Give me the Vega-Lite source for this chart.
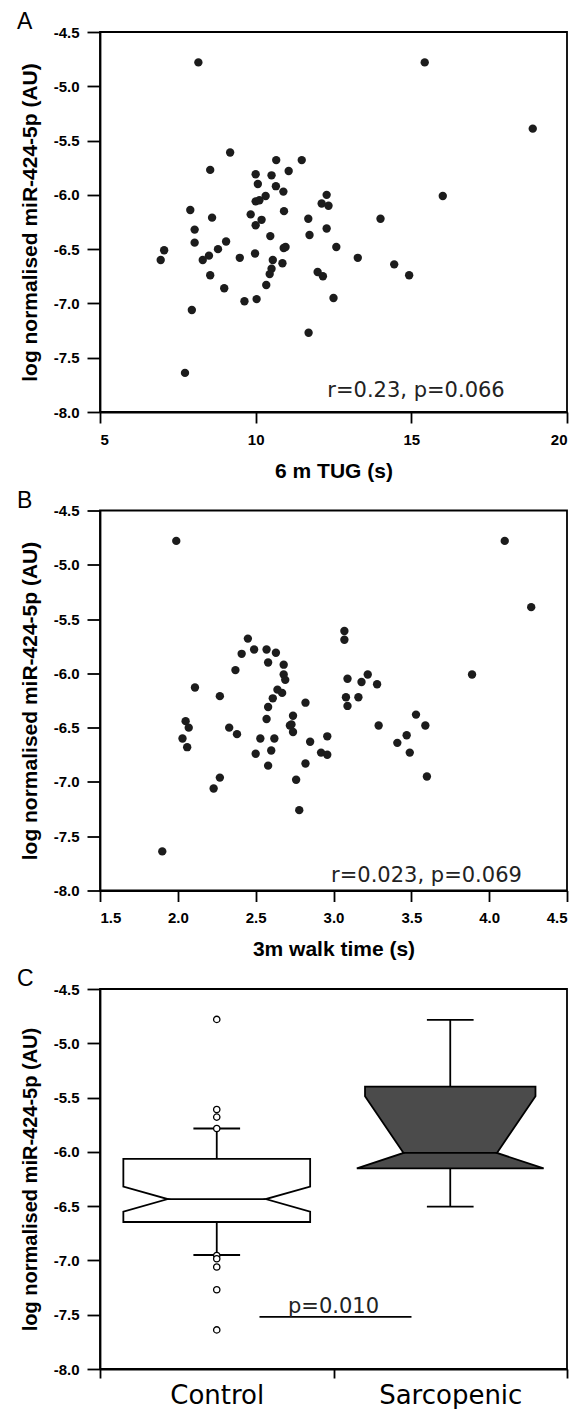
{
  "$schema": "https://vega.github.io/schema/vega-lite/v6.json",
  "background": "white",
  "padding": {"left": 16, "top": 10, "right": 0, "bottom": 0},
  "bounds": "flush",
  "spacing": 98.5,
  "config": {
    "view": {"stroke": "black", "strokeWidth": 1.8},
    "axis": {"domainColor": "black", "domainWidth": 1.8, "tickColor": "black", "tickWidth": 1.8, "grid": false, "labelFont": "Liberation Sans", "labelFontWeight": "bold", "labelFontSize": 15, "labelColor": "black", "titleFont": "Liberation Sans", "titleFontWeight": "bold", "titleFontSize": 21, "titleColor": "black"},
    "axisY": {"tickSize": 13, "labelPadding": 8, "titleX": -64, "titleY": 190, "titleAngle": -90, "titleBaseline": "alphabetic", "titleAlign": "center"},
    "axisX": {"tickSize": 11, "labelPadding": 9, "titleY": 65, "titleBaseline": "alphabetic"},
    "title": {"font": "Liberation Sans", "fontSize": 23, "fontWeight": "normal", "anchor": "start", "frame": "group", "baseline": "alphabetic", "dx": -83, "offset": -9, "color": "black"}
  },
  "datasets": {
    "tug": [
      {"tug": 8.16, "mir": -4.78}, {"tug": 15.43, "mir": -4.78}, {"tug": 18.9, "mir": -5.39}, {"tug": 9.18, "mir": -5.61},
      {"tug": 8.54, "mir": -5.77}, {"tug": 10.66, "mir": -5.68}, {"tug": 11.48, "mir": -5.68}, {"tug": 10.0, "mir": -5.81},
      {"tug": 10.51, "mir": -5.82}, {"tug": 11.06, "mir": -5.78}, {"tug": 10.07, "mir": -5.9}, {"tug": 10.65, "mir": -5.92},
      {"tug": 10.89, "mir": -5.97}, {"tug": 10.32, "mir": -6.01}, {"tug": 10.0, "mir": -6.06}, {"tug": 10.12, "mir": -6.05},
      {"tug": 12.28, "mir": -6.0}, {"tug": 12.12, "mir": -6.08}, {"tug": 12.34, "mir": -6.1}, {"tug": 16.01, "mir": -6.01},
      {"tug": 7.9, "mir": -6.14}, {"tug": 10.91, "mir": -6.15}, {"tug": 9.84, "mir": -6.18}, {"tug": 8.6, "mir": -6.21},
      {"tug": 11.69, "mir": -6.22}, {"tug": 14.01, "mir": -6.22}, {"tug": 10.19, "mir": -6.23}, {"tug": 10.0, "mir": -6.28},
      {"tug": 8.04, "mir": -6.32}, {"tug": 12.28, "mir": -6.31}, {"tug": 10.47, "mir": -6.38}, {"tug": 11.73, "mir": -6.37},
      {"tug": 6.95, "mir": -6.6}, {"tug": 7.06, "mir": -6.51}, {"tug": 8.04, "mir": -6.44}, {"tug": 8.3, "mir": -6.6},
      {"tug": 8.5, "mir": -6.56}, {"tug": 8.79, "mir": -6.5}, {"tug": 9.05, "mir": -6.43}, {"tug": 8.54, "mir": -6.74},
      {"tug": 8.99, "mir": -6.86}, {"tug": 9.49, "mir": -6.58}, {"tug": 9.98, "mir": -6.54}, {"tug": 9.64, "mir": -6.98},
      {"tug": 10.03, "mir": -6.96}, {"tug": 7.95, "mir": -7.06}, {"tug": 7.73, "mir": -7.64}, {"tug": 10.55, "mir": -6.6},
      {"tug": 10.51, "mir": -6.68}, {"tug": 10.45, "mir": -6.73}, {"tug": 10.34, "mir": -6.83}, {"tug": 10.86, "mir": -6.63},
      {"tug": 10.9, "mir": -6.49}, {"tug": 10.96, "mir": -6.48}, {"tug": 11.99, "mir": -6.71}, {"tug": 12.16, "mir": -6.75},
      {"tug": 12.5, "mir": -6.95}, {"tug": 11.7, "mir": -7.27}, {"tug": 12.59, "mir": -6.48}, {"tug": 13.28, "mir": -6.58},
      {"tug": 14.45, "mir": -6.64}, {"tug": 14.93, "mir": -6.74}
    ],
    "walk": [
      {"walk": 1.99, "mir": -4.78}, {"walk": 4.1, "mir": -4.78}, {"walk": 4.27, "mir": -5.39}, {"walk": 3.07, "mir": -5.61},
      {"walk": 3.07, "mir": -5.69}, {"walk": 2.45, "mir": -5.68}, {"walk": 2.41, "mir": -5.82}, {"walk": 2.49, "mir": -5.78},
      {"walk": 2.57, "mir": -5.78}, {"walk": 2.63, "mir": -5.81}, {"walk": 2.58, "mir": -5.9}, {"walk": 2.68, "mir": -5.92},
      {"walk": 2.37, "mir": -5.97}, {"walk": 2.68, "mir": -6.01}, {"walk": 2.69, "mir": -6.06}, {"walk": 3.89, "mir": -6.01},
      {"walk": 3.09, "mir": -6.05}, {"walk": 3.22, "mir": -6.01}, {"walk": 3.18, "mir": -6.08}, {"walk": 3.28, "mir": -6.1},
      {"walk": 2.11, "mir": -6.13}, {"walk": 2.64, "mir": -6.15}, {"walk": 2.67, "mir": -6.18}, {"walk": 2.27, "mir": -6.21},
      {"walk": 2.61, "mir": -6.23}, {"walk": 2.58, "mir": -6.31}, {"walk": 2.57, "mir": -6.42}, {"walk": 2.74, "mir": -6.39},
      {"walk": 2.82, "mir": -6.27}, {"walk": 3.08, "mir": -6.22}, {"walk": 3.09, "mir": -6.3}, {"walk": 3.16, "mir": -6.22},
      {"walk": 2.05, "mir": -6.44}, {"walk": 2.07, "mir": -6.5}, {"walk": 2.03, "mir": -6.6}, {"walk": 2.06, "mir": -6.68},
      {"walk": 2.33, "mir": -6.5}, {"walk": 2.38, "mir": -6.56}, {"walk": 2.27, "mir": -6.96}, {"walk": 2.23, "mir": -7.06},
      {"walk": 1.9, "mir": -7.64}, {"walk": 2.5, "mir": -6.74}, {"walk": 2.53, "mir": -6.6}, {"walk": 2.58, "mir": -6.85},
      {"walk": 2.6, "mir": -6.71}, {"walk": 2.62, "mir": -6.6}, {"walk": 2.72, "mir": -6.48}, {"walk": 2.73, "mir": -6.47},
      {"walk": 2.74, "mir": -6.54}, {"walk": 2.85, "mir": -6.63}, {"walk": 2.82, "mir": -6.83}, {"walk": 2.76, "mir": -6.98},
      {"walk": 2.78, "mir": -7.26}, {"walk": 2.92, "mir": -6.73}, {"walk": 2.96, "mir": -6.58}, {"walk": 2.96, "mir": -6.75},
      {"walk": 3.29, "mir": -6.48}, {"walk": 3.41, "mir": -6.64}, {"walk": 3.47, "mir": -6.57}, {"walk": 3.49, "mir": -6.73},
      {"walk": 3.53, "mir": -6.38}, {"walk": 3.59, "mir": -6.48}, {"walk": 3.6, "mir": -6.95}
    ],
    "shape": [
      {"group": "Control", "v": -6.646, "pos": 0.1, "pos2": 0.9},
      {"group": "Control", "v": -6.55, "pos": 0.1, "pos2": 0.9},
      {"group": "Control", "v": -6.435, "pos": 0.29, "pos2": 0.71},
      {"group": "Control", "v": -6.32, "pos": 0.1, "pos2": 0.9},
      {"group": "Control", "v": -6.064, "pos": 0.1, "pos2": 0.9},
      {"group": "Sarcopenic", "v": -6.153, "pos": 1.1, "pos2": 1.9},
      {"group": "Sarcopenic", "v": -6.01, "pos": 1.3, "pos2": 1.7},
      {"group": "Sarcopenic", "v": -5.487, "pos": 1.135, "pos2": 1.865},
      {"group": "Sarcopenic", "v": -5.4, "pos": 1.135, "pos2": 1.865}
    ],
    "whiskers": [
      {"group": "Control", "pos": 0.5, "v": -6.064, "v2": -5.785},
      {"group": "Control", "pos": 0.5, "v": -6.646, "v2": -6.95},
      {"group": "Sarcopenic", "pos": 1.5, "v": -5.4, "v2": -4.785},
      {"group": "Sarcopenic", "pos": 1.5, "v": -6.153, "v2": -6.505}
    ],
    "segments": [
      {"kind": "cap", "v": -5.785, "pos": 0.4, "pos2": 0.6},
      {"kind": "cap", "v": -6.95, "pos": 0.4, "pos2": 0.6},
      {"kind": "cap", "v": -4.785, "pos": 1.4, "pos2": 1.6},
      {"kind": "cap", "v": -6.505, "pos": 1.4, "pos2": 1.6},
      {"kind": "median", "v": -6.435, "pos": 0.29, "pos2": 0.71},
      {"kind": "median", "v": -6.01, "pos": 1.3, "pos2": 1.7},
      {"kind": "comparison", "v": -7.52, "pos": 0.683, "pos2": 1.334}
    ],
    "outliers": [
      {"group": "Control", "pos": 0.5, "v": -4.78},
      {"group": "Control", "pos": 0.5, "v": -5.61},
      {"group": "Control", "pos": 0.5, "v": -5.68},
      {"group": "Control", "pos": 0.5, "v": -5.785},
      {"group": "Control", "pos": 0.5, "v": -6.955},
      {"group": "Control", "pos": 0.5, "v": -6.985},
      {"group": "Control", "pos": 0.5, "v": -7.06},
      {"group": "Control", "pos": 0.5, "v": -7.27},
      {"group": "Control", "pos": 0.5, "v": -7.64}
    ]
  },
  "vconcat": [
    {
      "title": {"text": "A"},
      "width": 467,
      "height": 380,
      "encoding": {
        "x": {"field": "tug", "type": "quantitative", "scale": {"domain": [5, 20], "nice": false, "zero": false}, "axis": {"title": "6 m TUG (s)", "values": [5, 10, 15, 20]}},
        "y": {"field": "mir", "type": "quantitative", "scale": {"domain": [-8, -4.5], "nice": false, "zero": false}, "axis": {"title": "log normalised miR-424-5p (AU)", "values": [-8, -7.5, -7, -6.5, -6, -5.5, -5, -4.5], "format": ".1f", "labelExpr": "replace(datum.label, '−', '-')"}}
      },
      "layer": [
        {
          "data": {"name": "tug"},
          "mark": {"type": "circle", "size": 70, "color": "#1c1c1c", "opacity": 1}
        },
        {
          "data": {"values": [{"tug": 18, "mir": -7.86, "label": "r=0.23, p=0.066"}]},
          "mark": {"type": "text", "align": "right", "baseline": "alphabetic", "font": "DejaVu Sans", "fontSize": 21, "color": "#222222"},
          "encoding": {"text": {"field": "label"}}
        }
      ]
    },
    {
      "title": {"text": "B"},
      "width": 467,
      "height": 380,
      "encoding": {
        "x": {"field": "walk", "type": "quantitative", "scale": {"domain": [1.5, 4.5], "nice": false, "zero": false}, "axis": {"title": "3m walk time (s)", "values": [1.5, 2, 2.5, 3, 3.5, 4, 4.5], "format": ".1f"}},
        "y": {"field": "mir", "type": "quantitative", "scale": {"domain": [-8, -4.5], "nice": false, "zero": false}, "axis": {"title": "log normalised miR-424-5p (AU)", "values": [-8, -7.5, -7, -6.5, -6, -5.5, -5, -4.5], "format": ".1f", "labelExpr": "replace(datum.label, '−', '-')"}}
      },
      "layer": [
        {
          "data": {"name": "walk"},
          "mark": {"type": "circle", "size": 70, "color": "#1c1c1c", "opacity": 1}
        },
        {
          "data": {"values": [{"walk": 4.21, "mir": -7.92, "label": "r=0.023, p=0.069"}]},
          "mark": {"type": "text", "align": "right", "baseline": "alphabetic", "font": "DejaVu Sans", "fontSize": 21, "color": "#222222"},
          "encoding": {"text": {"field": "label"}}
        }
      ]
    },
    {
      "title": {"text": "C"},
      "width": 467,
      "height": 380,
      "encoding": {
        "y": {"field": "v", "type": "quantitative", "scale": {"domain": [-8, -4.5], "nice": false, "zero": false}, "axis": {"title": "log normalised miR-424-5p (AU)", "titleFontSize": 20, "values": [-8, -7.5, -7, -6.5, -6, -5.5, -5, -4.5], "format": ".1f", "labelExpr": "replace(datum.label, '−', '-')"}},
        "x": {"field": "pos", "type": "quantitative", "scale": {"domain": [0, 2], "nice": false, "zero": false}, "axis": {"title": null, "values": [0, 0.5, 1, 1.5, 2], "labelExpr": "datum.value == 0.5 ? 'Control' : datum.value == 1.5 ? 'Sarcopenic' : ''", "labelFont": "DejaVu Sans", "labelFontWeight": "normal", "labelFontSize": 26, "labelPadding": 4, "tickSize": 9, "tickOpacity": {"condition": {"test": "datum.value == 0.5 || datum.value == 1.5", "value": 0}, "value": 1}}}
      },
      "layer": [
        {
          "data": {"name": "shape"},
          "mark": {"type": "area", "orient": "horizontal", "stroke": "black", "strokeWidth": 1.8, "opacity": 1, "fillOpacity": 1},
          "encoding": {
            "x2": {"field": "pos2"},
            "color": {"field": "group", "type": "nominal", "scale": {"domain": ["Control", "Sarcopenic"], "range": ["#ffffff", "#4b4b4b"]}, "legend": null}
          }
        },
        {
          "data": {"name": "whiskers"},
          "mark": {"type": "rule", "color": "black", "strokeWidth": 1.8},
          "encoding": {"y2": {"field": "v2"}}
        },
        {
          "data": {"name": "segments"},
          "mark": {"type": "rule", "color": "black", "strokeWidth": 1.8},
          "encoding": {"x2": {"field": "pos2"}}
        },
        {
          "data": {"name": "outliers"},
          "mark": {"type": "point", "shape": "circle", "filled": true, "fill": "white", "stroke": "black", "strokeWidth": 1.3, "size": 40, "opacity": 1}
        },
        {
          "data": {"values": [{"pos": 1.0, "v": -7.48, "label": "p=0.010"}]},
          "mark": {"type": "text", "align": "center", "baseline": "alphabetic", "font": "DejaVu Sans", "fontSize": 21, "color": "#222222"},
          "encoding": {"text": {"field": "label"}}
        }
      ]
    }
  ]
}
